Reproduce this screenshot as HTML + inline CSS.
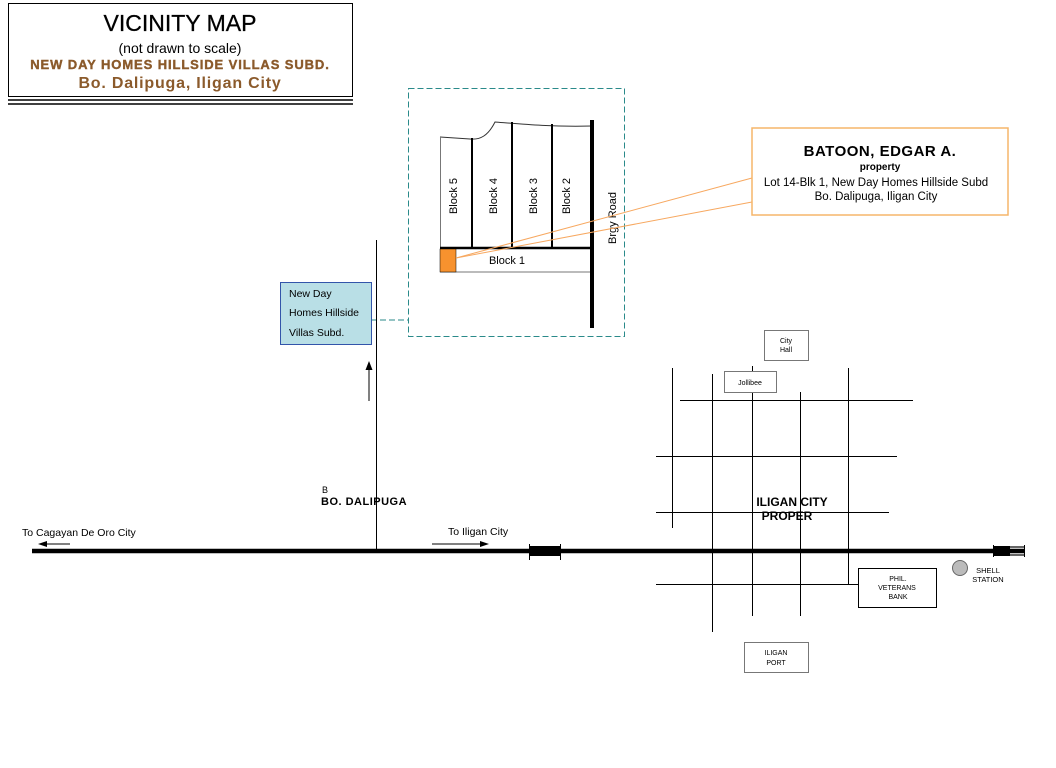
<!DOCTYPE html>
<html><head><meta charset="utf-8"><style>
html,body{margin:0;padding:0;background:#fff;}
svg{display:block;font-family:"Liberation Sans",Arial,sans-serif;}
</style></head><body>
<svg width="1056" height="768" viewBox="0 0 1056 768" xmlns="http://www.w3.org/2000/svg">
<rect x="0" y="0" width="1056" height="768" fill="#fff"/>
<!-- title -->
<rect x="8.5" y="3.5" width="344" height="93" fill="#fff" stroke="#000" stroke-width="1"/>
<line x1="8" y1="100" x2="353" y2="100" stroke="#000" stroke-width="1.5"/>
<line x1="8" y1="104" x2="353" y2="104" stroke="#000" stroke-width="1.5"/>
<text x="180" y="31" font-size="23" text-anchor="middle" fill="#000" stroke="#000" stroke-width="0.3">VICINITY MAP</text>
<text x="180" y="53" font-size="14" text-anchor="middle" fill="#000">(not drawn to scale)</text>
<text x="180" y="69" font-size="13" font-weight="bold" text-anchor="middle" fill="#8b5a2b" letter-spacing="0.9" stroke="#8b5a2b" stroke-width="0.4">NEW DAY HOMES HILLSIDE VILLAS SUBD.</text>
<text x="180" y="88" font-size="16" font-weight="bold" text-anchor="middle" fill="#8b5a2b" letter-spacing="0.8">Bo. Dalipuga, Iligan City</text>

<!-- dashed inset -->
<rect x="408.5" y="88.5" width="216" height="248" fill="none" stroke="#2a8a8a" stroke-dasharray="6,3"/>
<line x1="371" y1="320" x2="408" y2="320" stroke="#2a8a8a" stroke-dasharray="6,3"/>
<path d="M440 137 L470 139 C480 140 488 136 495 122 C520 124 550 127 592 126" fill="none" stroke="#333" stroke-width="1"/>
<line x1="440.5" y1="137" x2="440.5" y2="272" stroke="#777"/>
<line x1="472" y1="138" x2="472" y2="248" stroke="#000" stroke-width="2"/>
<line x1="512" y1="122" x2="512" y2="248" stroke="#000" stroke-width="2"/>
<line x1="552" y1="124" x2="552" y2="248" stroke="#000" stroke-width="2"/>
<line x1="440" y1="248" x2="592" y2="248" stroke="#000" stroke-width="2.5"/>
<line x1="440" y1="272" x2="592" y2="272" stroke="#777"/>
<line x1="592" y1="120" x2="592" y2="328" stroke="#000" stroke-width="4"/>
<rect x="440" y="249" width="16" height="23" fill="#f7922e" stroke="#000" stroke-width="0.5"/>
<text transform="translate(457,196) rotate(-90)" font-size="11" text-anchor="middle">Block 5</text>
<text transform="translate(497,196) rotate(-90)" font-size="11" text-anchor="middle">Block 4</text>
<text transform="translate(537,196) rotate(-90)" font-size="11" text-anchor="middle">Block 3</text>
<text transform="translate(570,196) rotate(-90)" font-size="11" text-anchor="middle">Block 2</text>
<text transform="translate(616,218) rotate(-90)" font-size="11" text-anchor="middle">Brgy Road</text>
<text x="507" y="264" font-size="11" text-anchor="middle">Block 1</text>
<line x1="456" y1="258" x2="752" y2="178" stroke="#f7a860" stroke-width="1"/>
<line x1="456" y1="258" x2="752" y2="202" stroke="#f7a860" stroke-width="1"/>
<rect x="752" y="128" width="256" height="87" fill="#fff" stroke="#f5b56a" stroke-width="1.5"/>
<text x="880" y="156" font-size="15" font-weight="bold" text-anchor="middle" letter-spacing="0.5">BATOON, EDGAR A.</text>
<text x="880" y="170" font-size="10" font-weight="bold" text-anchor="middle">property</text>
<text x="876" y="186" font-size="11.5" text-anchor="middle">Lot 14-Blk 1, New Day Homes Hillside Subd</text>
<text x="876" y="200" font-size="11.5" text-anchor="middle">Bo. Dalipuga, Iligan City</text>

<!-- blue box -->
<rect x="280.5" y="282.5" width="91" height="62" fill="#b9dfe6" stroke="#3355aa"/>
<text x="289" y="297" font-size="10.5">New Day</text>
<text x="289" y="316" font-size="10.5">Homes Hillside</text>
<text x="289" y="336" font-size="10.5">Villas Subd.</text>
<line x1="376.5" y1="240" x2="376.5" y2="551" stroke="#000"/>
<line x1="369" y1="401" x2="369" y2="368" stroke="#000"/>
<polygon points="369,361 365.5,370 372.5,370" fill="#000"/>
<text x="322" y="493" font-size="9">B</text>
<text x="321" y="505" font-size="11" font-weight="bold" letter-spacing="0.5">BO. DALIPUGA</text>

<!-- main road -->
<line x1="32" y1="551" x2="1024" y2="551" stroke="#000" stroke-width="4.5"/>
<rect x="529" y="546" width="31" height="10" fill="#000"/>
<line x1="529.5" y1="544" x2="529.5" y2="560" stroke="#000"/>
<line x1="560.5" y1="544" x2="560.5" y2="560" stroke="#000"/>
<rect x="993" y="546" width="17" height="10" fill="#000"/>
<line x1="1008" y1="547" x2="1024" y2="547" stroke="#000" stroke-width="1.2"/>
<line x1="1008" y1="555" x2="1024" y2="555" stroke="#000" stroke-width="1.2"/>
<line x1="993.5" y1="545" x2="993.5" y2="557" stroke="#000"/>
<line x1="1024.5" y1="545" x2="1024.5" y2="557" stroke="#000"/>
<text x="22" y="536" font-size="10.5">To Cagayan De Oro City</text>
<line x1="46" y1="544" x2="70" y2="544" stroke="#000"/>
<polygon points="38,544 47,541 47,547" fill="#000"/>
<text x="448" y="535" font-size="10.5">To Iligan City</text>
<line x1="432" y1="544" x2="480" y2="544" stroke="#000"/>
<polygon points="489,544 480,541 480,547" fill="#000"/>

<!-- grid -->
<g stroke="#000" stroke-width="1">
<line x1="672.5" y1="368" x2="672.5" y2="528"/>
<line x1="712.5" y1="374" x2="712.5" y2="632"/>
<line x1="752.5" y1="366" x2="752.5" y2="616"/>
<line x1="800.5" y1="392" x2="800.5" y2="616"/>
<line x1="848.5" y1="368" x2="848.5" y2="584"/>
<line x1="680" y1="400.5" x2="913" y2="400.5"/>
<line x1="656" y1="456.5" x2="897" y2="456.5"/>
<line x1="656" y1="512.5" x2="889" y2="512.5"/>
<line x1="656" y1="584.5" x2="858" y2="584.5"/>
</g>
<rect x="764.5" y="330.5" width="44" height="30" fill="#fff" stroke="#777"/>
<text x="786" y="343" font-size="7" text-anchor="middle">City</text>
<text x="786" y="352" font-size="7" text-anchor="middle">Hall</text>
<rect x="724.5" y="371.5" width="52" height="21" fill="#fff" stroke="#777"/>
<text x="750" y="385" font-size="7" text-anchor="middle">Jollibee</text>
<rect x="858.5" y="568.5" width="78" height="39" fill="#fff" stroke="#000"/>
<text x="898" y="581" font-size="7" text-anchor="middle">PHIL.</text>
<text x="897" y="590" font-size="7" text-anchor="middle">VETERANS</text>
<text x="898" y="599" font-size="7" text-anchor="middle">BANK</text>
<rect x="744.5" y="642.5" width="64" height="30" fill="#fff" stroke="#777"/>
<text x="776" y="655" font-size="7" text-anchor="middle">ILIGAN</text>
<text x="776" y="665" font-size="7" text-anchor="middle">PORT</text>
<circle cx="960" cy="568" r="7.5" fill="#bbb" stroke="#666"/>
<text x="988" y="573" font-size="7.5" text-anchor="middle">SHELL</text>
<text x="988" y="582" font-size="7.5" text-anchor="middle">STATION</text>
<text x="792" y="506" font-size="12" font-weight="bold" text-anchor="middle">ILIGAN CITY</text>
<text x="787" y="520" font-size="12" font-weight="bold" text-anchor="middle">PROPER</text>
</svg>
</body></html>
